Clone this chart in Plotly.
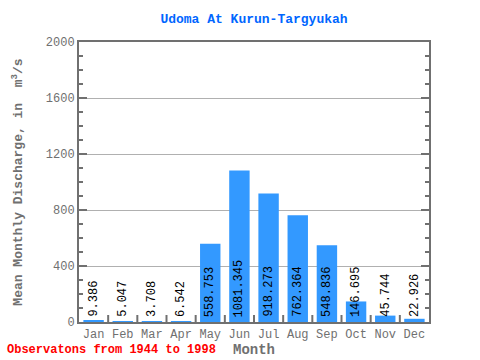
import plotly.graph_objects as go

months = ["Jan", "Feb", "Mar", "Apr", "May", "Jun", "Jul", "Aug", "Sep", "Oct", "Nov", "Dec"]
discharge = [9.386, 5.047, 3.708, 6.542, 558.753, 1081.345, 918.273, 762.364, 548.836, 146.695, 45.744, 22.926]
labels = ["9.386", "5.047", "3.708", "6.542", "558.753", "1081.345", "918.273", "762.364", "548.836", "146.695", "45.744", "22.926"]

mono = "Liberation Mono, DejaVu Sans Mono, monospace"
gray = "#707070"

fig = go.Figure()
fig.add_trace(go.Bar(x=months, y=discharge, marker=dict(color="#3399FF", line=dict(width=0)),
                     width=0.7, hoverinfo="skip"))

for m, v, t in zip(months, discharge, labels):
    fig.add_annotation(x=m, y=0, text=t, textangle=-90, showarrow=False,
                       yanchor="bottom", xanchor="center", yshift=3,
                       font=dict(family=mono, size=12, color="black"))

fig.add_annotation(xref="paper", yref="paper", x=-74/350, y=-38/280, xanchor="left", yanchor="bottom",
                   yshift=1, text="<b>Observatons from 1944 to 1998</b>", showarrow=False,
                   font=dict(family=mono, size=12, color="#FF0000"))

fig.update_layout(
    width=480, height=360,
    margin=dict(l=79, r=51, t=42, b=38),
    paper_bgcolor="white", plot_bgcolor="white",
    showlegend=False,
    title=dict(text="<b>Udoma At Kurun-Targyukah</b>", x=254/480, xanchor="center",
               yref="container", y=1 - 18/360, yanchor="middle",
               font=dict(family=mono, size=13, color="#0066FF")),
    bargap=0.3,
)
fig.update_xaxes(
    automargin=False,
    showline=True, linecolor=gray, linewidth=2, mirror=True,
    ticks="", tickfont=dict(family=mono, size=12, color=gray),
    title=dict(text="<b>Month</b>", font=dict(family=mono, size=14, color=gray), standoff=2),
    range=[-0.5, 11.5],
)
fig.update_yaxes(
    automargin=False,
    range=[0, 2000], tickvals=[0, 400, 800, 1200, 1600, 2000],
    showline=True, linecolor=gray, linewidth=2, mirror="allticks",
    ticks="inside", ticklen=8, tickcolor=gray, tickwidth=2,
    minor=dict(dtick=100, ticks="inside", ticklen=4, tickcolor=gray, tickwidth=2, showgrid=False),
    showgrid=True, gridcolor="#B0B0B0", gridwidth=1,
    tickfont=dict(family=mono, size=12, color=gray),
    title=dict(text="<b>Mean Monthly Discharge, in  m<sup>3</sup>/s</b>", font=dict(family=mono, size=13, color=gray), standoff=20),
    zeroline=False,
)
# month separator ticks on bottom
for i in range(1, 12):
    fig.add_shape(type="line", xref="x", yref="paper", x0=i - 0.5, x1=i - 0.5, y0=0, y1=7/280,
                  line=dict(color=gray, width=2))

fig.write_html("out.html", config={"displayModeBar": False},
               post_script="document.body.style.margin='0';document.body.style.overflow='hidden';")
